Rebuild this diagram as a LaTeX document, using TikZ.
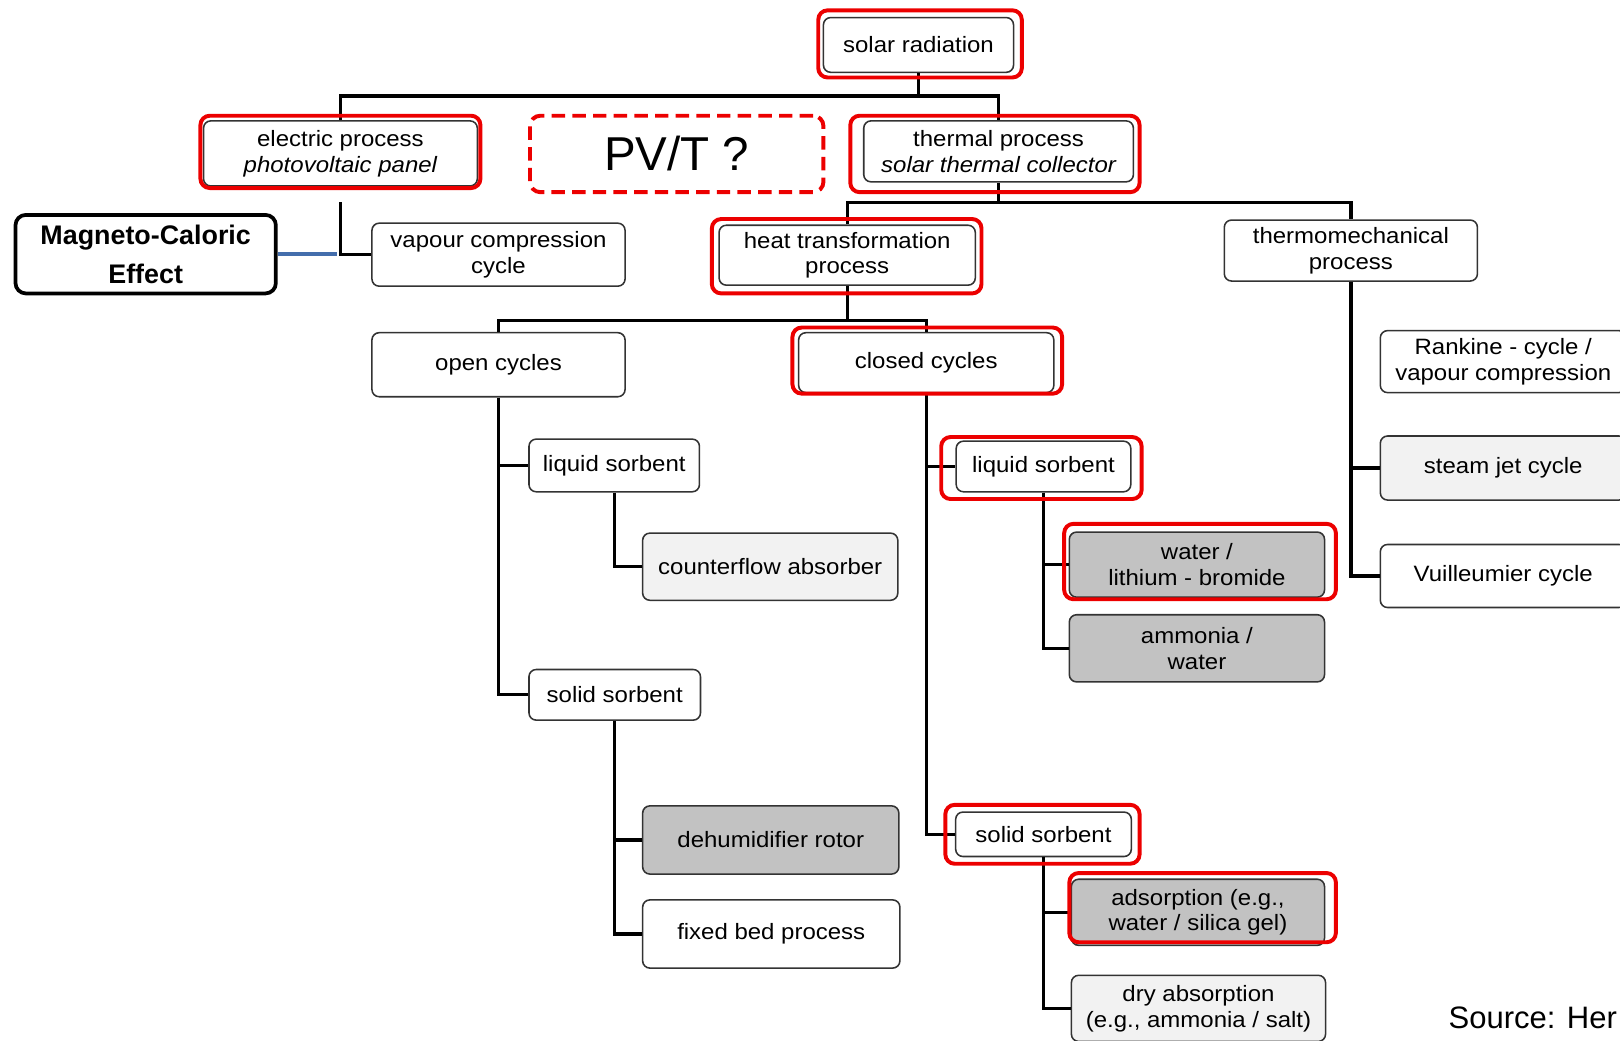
\documentclass[tikz,border=0pt]{standalone}
\usepackage{fontspec}
\setmainfont{Liberation Sans}
\newfontfamily\scanfont{Liberation Sans}[FakeStretch=1.08]
\usepackage{xcolor}
\usepackage{tikz}
\definecolor{hlred}{RGB}{236,0,0}
\definecolor{linkblue}{RGB}{68,110,172}

\begin{document}
\begin{tikzpicture}[x=1pt,y=-1pt,
    box/.style={draw=black!80, line width=1.5pt, rectangle, rounded corners=7pt, fill=white,
                align=center, inner sep=0pt, font=\scanfont\fontsize{21.5}{25}\selectfont},
    darkbox/.style={box, fill=black!24},
    lightbox/.style={box, fill=black!5},
    conn/.style={line width=3.2pt},
    hilite/.style={draw=hlred, line width=3.8pt, rounded corners=9pt}]
    \useasboundingbox (0,0) rectangle (1568,1007);
    \clip (0,0) rectangle (1568,1007);
    \coordinate (busA) at (0,93);
    \coordinate (busB) at (0,196);
    \coordinate (busC) at (0,310);

    % Solar radiation
    \node[box, minimum width=184pt, minimum height=53pt] (solar) at (889,43.5) {solar radiation};
    % Electric process
    \node[box, minimum width=265pt, minimum height=63pt] (elec) at (329.5,148.5) {electric process\\\itshape photovoltaic panel};
    % PV/T question
    \node[draw=hlred, line width=3.8pt, dash pattern=on 13pt off 7pt, rounded corners=10pt,
          minimum width=284pt, minimum height=74pt, font=\fontsize{46}{50}\selectfont] (pvt) at (655,149) {PV/T ?};
    % Thermal process
    \node[box, minimum width=261pt, minimum height=59pt] (therm) at (966.5,146.5) {thermal process\\\itshape solar thermal collector};
    % Magneto-caloric effect
    \node[draw, line width=3.6pt, rounded corners=10pt, align=center, minimum width=252pt, minimum height=76pt,
          font=\bfseries\fontsize{26}{38}\selectfont] (mce) at (141,246) {Magneto-Caloric\\Effect};
    % Vapour compression cycle
    \node[box, minimum width=245pt, minimum height=61pt] (vapour) at (482.5,246.5) {vapour compression\\cycle};
    % Heat transformation process
    \node[box, minimum width=248pt, minimum height=58pt] (heat) at (820,247) {heat transformation\\process};
    % Thermomechanical process
    \node[box, minimum width=245pt, minimum height=59pt] (thmech) at (1307.5,242.5) {thermomechanical\\process};
    % Open cycles
    \node[box, minimum width=245pt, minimum height=62pt] (open) at (482.5,353) {open cycles};
    % Closed cycles
    \node[box, minimum width=247pt, minimum height=58pt] (closed) at (896.5,351) {closed cycles};
    % Open: liquid sorbent
    \node[box, minimum width=165pt, minimum height=51pt] (lsopen) at (594.5,450.5) {liquid sorbent};
    \node[lightbox, minimum width=247pt, minimum height=65pt] (counter) at (745.5,548.5) {counterflow absorber};
    % Open: solid sorbent
    \node[box, minimum width=166pt, minimum height=49pt] (ssopen) at (595,672.5) {solid sorbent};
    \node[darkbox, minimum width=248pt, minimum height=66pt] (dehum) at (746,813) {dehumidifier rotor};
    \node[box, minimum width=249pt, minimum height=66pt] (fixed) at (746.5,904) {fixed bed process};
    % Closed: liquid sorbent
    \node[box, minimum width=169pt, minimum height=49pt] (lsclosed) at (1010,451.5) {liquid sorbent};
    \node[darkbox, minimum width=247pt, minimum height=63pt] (libr) at (1158.5,546.5) {water /\\lithium - bromide};
    \node[darkbox, minimum width=247pt, minimum height=65pt] (ammonia) at (1158.5,627.5) {ammonia /\\water};
    % Closed: solid sorbent
    \node[box, minimum width=170pt, minimum height=43pt] (ssclosed) at (1010,807.5) {solid sorbent};
    \node[darkbox, minimum width=245pt, minimum height=64pt] (adsorp) at (1159.5,883) {adsorption (e.g.,\\water / silica gel)};
    \node[lightbox, minimum width=246pt, minimum height=64pt] (dry) at (1160,976) {dry absorption\\(e.g., ammonia / salt)};
    % Thermomechanical branch
    \node[box, minimum width=238pt, minimum height=60pt] (rankine) at (1455,350) {Rankine - cycle /\\vapour compression};
    \node[lightbox, minimum width=238pt, minimum height=62pt] (steam) at (1455,453) {steam jet cycle};
    \node[box, minimum width=238pt, minimum height=61pt] (vuill) at (1455,557.5) {Vuilleumier cycle};
    % Source
    \node[anchor=west, inner sep=0pt, font=\fontsize{30}{34}\selectfont] (source) at (1402,985) {Source: Her};

    % Connections
    \draw[conn] (solar.south) -- (solar.south |- busA);
    \draw[conn] (elec.north) -- (elec.north |- busA) -- (therm.north |- busA) -- (therm.north);
    \draw[conn] ([yshift=-15pt]elec.south) |- (vapour.west);
    \draw[line width=4.5pt, linkblue] (mce.east) -- ([xshift=-3pt]mce.east -| elec.south);
    \draw[conn] (therm.south) -- (therm.south |- busB);
    \draw[conn] (heat.north) -- (heat.north |- busB) -- (thmech.north |- busB) -- (thmech.north);
    \draw[conn] (heat.south) -- (heat.south |- busC);
    \draw[conn] (open.north) -- (open.north |- busC) -- (closed.north |- busC) -- (closed.north);
    \draw[conn] (open.south) |- (lsopen.west);
    \draw[conn] (open.south) |- (ssopen.west);
    \draw[conn] (lsopen.south) |- (counter.west);
    \draw[conn] (ssopen.south) |- (dehum.west);
    \draw[conn] (ssopen.south) |- (fixed.west);
    \draw[conn] (closed.south) |- (lsclosed.west);
    \draw[conn] (closed.south) |- (ssclosed.west);
    \draw[conn] (lsclosed.south) |- (libr.west);
    \draw[conn] (lsclosed.south) |- (ammonia.west);
    \draw[conn] (ssclosed.south) |- (adsorp.west);
    \draw[conn] (ssclosed.south) |- (dry.west);
    \draw[conn] (thmech.south) |- (steam.west);
    \draw[conn] (thmech.south) |- (vuill.west);

    % Red highlights
    \draw[hilite] (792,10) rectangle (989,75);
    \draw[hilite] (194,112) rectangle (465,182);
    \draw[hilite] (823,112) rectangle (1103,186);
    \draw[hilite] (689,212) rectangle (950,284);
    \draw[hilite] (767,317) rectangle (1028,381);
    \draw[hilite] (911,423) rectangle (1105,483);
    \draw[hilite] (1030,507) rectangle (1293,580);
    \draw[hilite] (915,779) rectangle (1103,836);
    \draw[hilite] (1035,845) rectangle (1293,912);
\end{tikzpicture}
\end{document}
